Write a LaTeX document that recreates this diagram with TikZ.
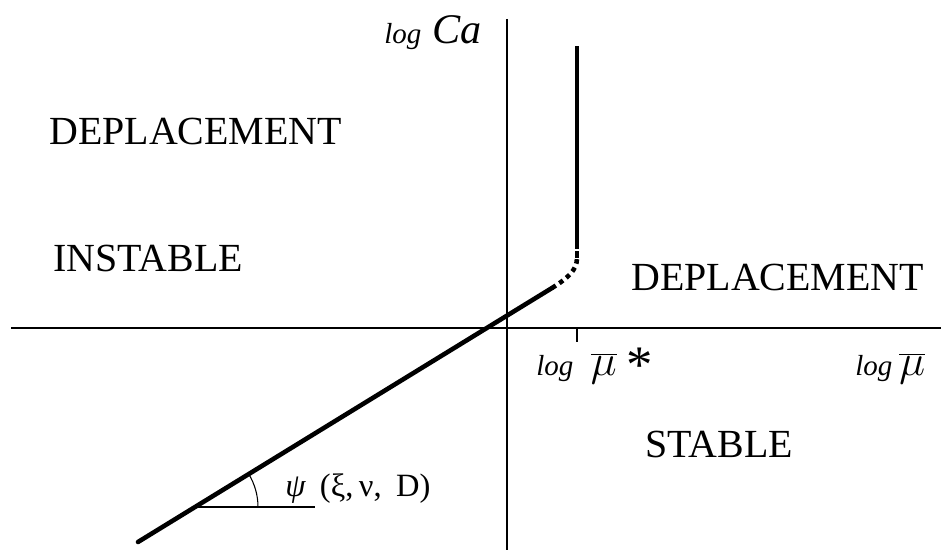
\documentclass[tikz,border=0pt]{standalone}
\usepackage{fontspec}
\setmainfont{Liberation Serif}
\usetikzlibrary{calc}

\newcommand{\mubar}{{\fontsize{26}{30}\selectfont$\overline{\mu}$}}

\begin{document}
\begin{tikzpicture}[x=0.02cm,y=-0.02cm,
  axis/.style={line width=0.6pt},
  branch/.style={line width=2.6pt},
  region/.style={anchor=base west,inner sep=0pt,
    font=\fontsize{22.7}{27}\selectfont},
  axlabel/.style={anchor=base west,inner sep=0pt,
    font=\fontsize{16.5}{20}\selectfont\itshape}]
  \useasboundingbox (0,0) rectangle (941,550);

  % Axes and tick
  \coordinate (origin) at (507,328);
  \draw[axis] (11,328) -- (941,328);
  \draw[axis] (507,19) -- (507,550);
  \draw[axis] (577,328) -- (577,342);

  % Threshold curve
  \coordinate (low) at (138,542);
  \coordinate (knee) at (552,288);
  \coordinate (bend) at (577,258);
  \coordinate (top) at (577,46);
  \draw[branch,line cap=round] (low) -- (knee);
  \draw[branch,dash pattern=on 2.6pt off 2.4pt]
    (knee) .. controls (568,278) and (577,270) .. (bend);
  \draw[branch,dash pattern=on 4pt off 2.5pt] (bend) -- (577,247);
  \draw[branch] (577,249) -- (top);

  % Slope angle
  \coordinate (vertex) at (195,507);
  \draw[axis] (vertex) -- (315,507);
  \draw[axis] (258,507) arc[start angle=0,end angle=-31.5,radius=63];
  \node[anchor=base west,inner sep=0pt,font=\fontsize{18.5}{22}\selectfont]
    (slope) at (285,497) {{\itshape ψ}\;\,(ξ,\,ν,\;\,D)};

  % Axis labels
  \node[axlabel] (ylabel) at (384,44)
    {log\hspace{0.22cm}{\fontsize{24}{28}\selectfont Ca}};
  \node[axlabel] (critlabel) at (536,376)
    {log\hspace{0.35cm}\mubar\hspace{0.2cm}{\upshape\fontsize{30}{34}\selectfont\raisebox{-0.25ex}{*}}};
  \node[axlabel] (xlabel) at (855,376)
    {log\hspace{0.14cm}\mubar};

  % Regions
  \node[region] (unstabletop) at (49,145) {DEPLACEMENT};
  \node[region] (unstable) at (53,272) {INSTABLE};
  \node[region] (stabletop) at (631,291) {DEPLACEMENT};
  \node[region] (stable) at (645,458) {STABLE};
\end{tikzpicture}
\end{document}
